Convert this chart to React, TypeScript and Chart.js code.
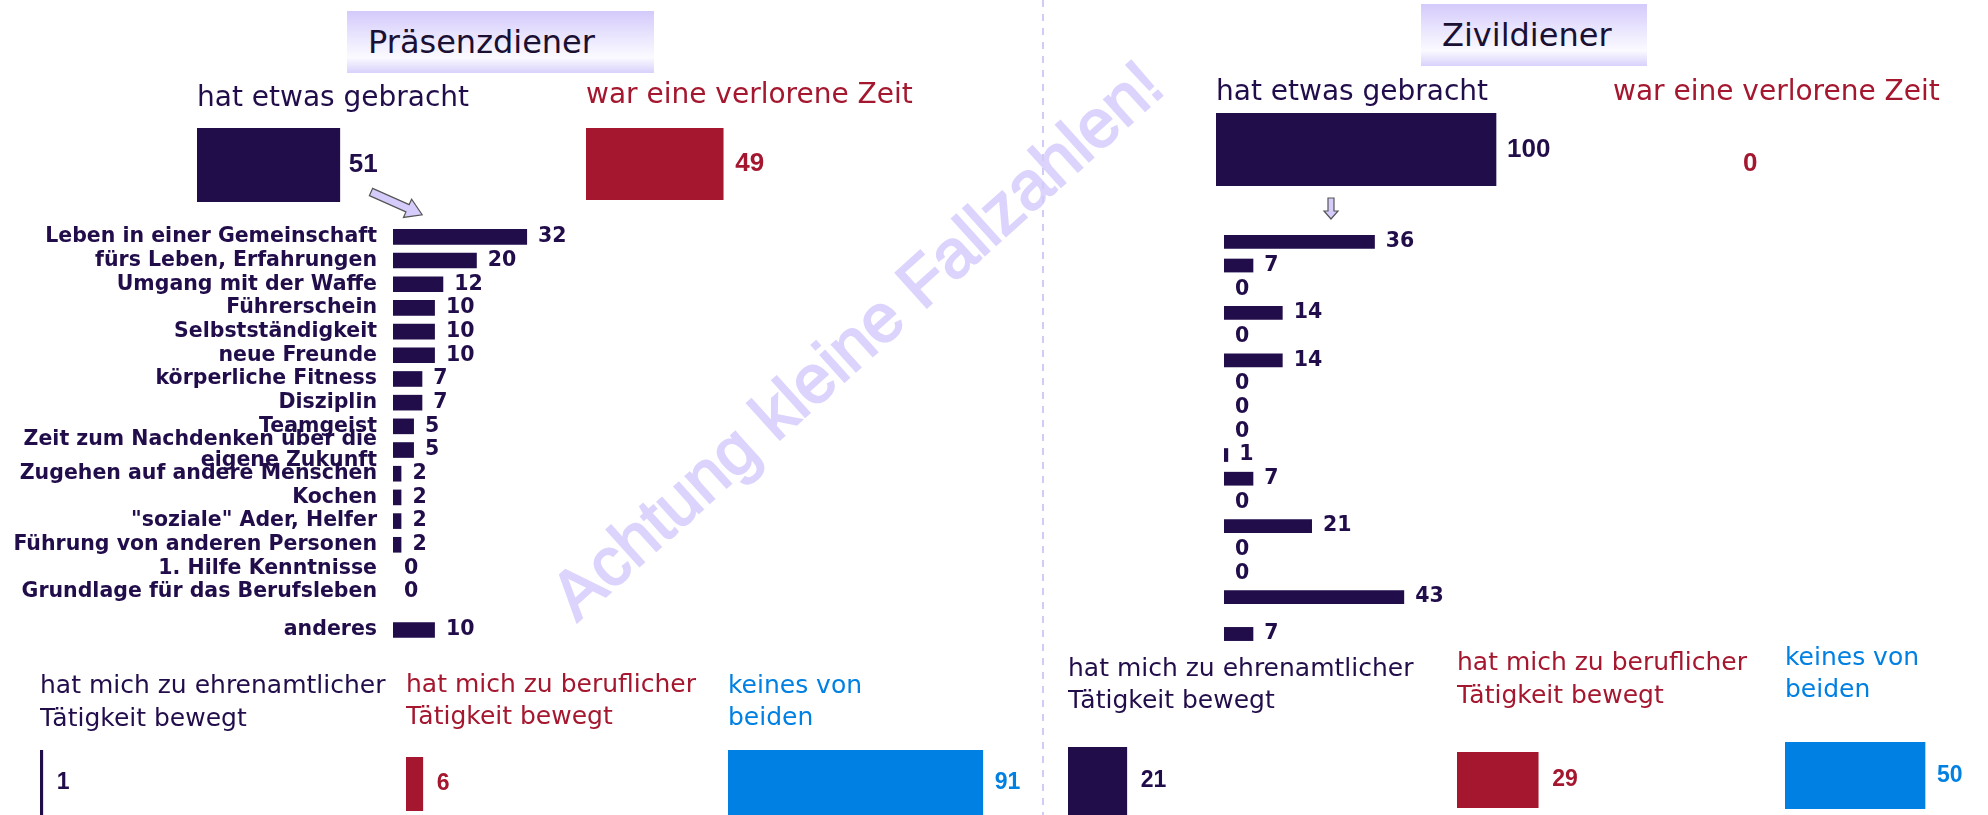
import React, { useEffect, useRef } from "react";
import { Chart, registerables } from "chart.js";

Chart.register(...registerables);

// ---------------- data ----------------
const listCategories: (string | string[])[] = [
  "Leben in einer Gemeinschaft",
  "fürs Leben, Erfahrungen",
  "Umgang mit der Waffe",
  "Führerschein",
  "Selbstständigkeit",
  "neue Freunde",
  "körperliche Fitness",
  "Disziplin",
  "Teamgeist",
  ["Zeit zum Nachdenken über die", "eigene Zukunft"],
  "Zugehen auf andere Menschen",
  "Kochen",
  "\"soziale\" Ader, Helfer",
  "Führung von anderen Personen",
  "1. Hilfe Kenntnisse",
  "Grundlage für das Berufsleben",
];
const otherCategory = ["anderes"];

const praesenzList = [32, 20, 12, 10, 10, 10, 7, 7, 5, 5, 2, 2, 2, 2, 0, 0];
const praesenzOther = [10];
const zivilList = [36, 7, 0, 14, 0, 14, 0, 0, 0, 1, 7, 0, 21, 0, 0, 43];
const zivilOther = [7];

const overallCategories = ["hat etwas gebracht", "war eine verlorene Zeit"];
const praesenzOverall = [51, 49];
const zivilOverall = [100, 0];

const effectCategories = [
  ["hat mich zu ehrenamtlicher", "Tätigkeit bewegt"],
  ["hat mich zu beruflicher", "Tätigkeit bewegt"],
  ["keines von", "beiden"],
];
const praesenzEffect = [1, 6, 91];
const zivilEffect = [21, 29, 50];

const panelTitles = ["Präsenzdiener", "Zivildiener"];
const watermarkText = "Achtung kleine Fallzahlen!";

// ---------------- styles ----------------
const NAVY = "#220d4b";
const RED = "#a4172f";
const BLUE = "#0080e2";
const COLORS = [NAVY, RED, BLUE];
const LIST_PX = 4.19; // px per percent in the detail lists
const BIG_PX = 2.8; // px per percent in the big blocks
const LIST_FONT = "bold 20.5px 'DejaVu Sans'";
const TOP_VAL_FONT = "bold 26px 'Liberation Sans'";
const BOT_VAL_FONT = "bold 23px 'Liberation Sans'";

const valueLabelPlugin = {
  id: "valueLabels",
  afterDatasetsDraw(chart: any, _args: any, opts: any) {
    const { ctx } = chart;
    const meta = chart.getDatasetMeta(0);
    const data = chart.data.datasets[0].data;
    ctx.save();
    ctx.font = opts.font;
    ctx.fillStyle = opts.color;
    ctx.textBaseline = "middle";
    ctx.textAlign = "left";
    meta.data.forEach((el: any, i: number) => {
      ctx.fillText(String(data[i]), el.x + (opts.offset ?? 10), el.y + (opts.dy ?? 0));
    });
    ctx.restore();
  },
};

const fillFor = (color: string) => (c: any) => (c.raw === 0 ? "rgba(0,0,0,0)" : color);

type ListProps = {
  left: number;
  top: number;
  width: number;
  height: number;
  labels: (string | string[])[];
  values: number[];
  axisWidth: number;
  barPct: number;
};

function ListChart({ left, top, width, height, labels, values, axisWidth, barPct }: ListProps) {
  const ref = useRef<HTMLCanvasElement>(null);
  useEffect(() => {
    const showAxis = axisWidth > 0;
    const chart = new Chart(ref.current as HTMLCanvasElement, {
      type: "bar",
      data: {
        labels: labels as any,
        datasets: [
          {
            data: values,
            backgroundColor: fillFor(NAVY) as any,
            borderWidth: 0,
            barPercentage: barPct,
            categoryPercentage: 1,
          },
        ],
      },
      options: {
        indexAxis: "y",
        animation: false,
        responsive: false,
        maintainAspectRatio: false,
        layout: { padding: 0 },
        plugins: {
          legend: { display: false },
          tooltip: { enabled: false },
          title: { display: false },
          valueLabels: { font: LIST_FONT, color: NAVY, offset: 11 },
        } as any,
        scales: {
          x: { display: false, min: 0, max: (width - axisWidth) / LIST_PX },
          y: {
            display: showAxis,
            grid: { display: false },
            border: { display: false },
            ticks: {
              autoSkip: false,
              padding: 8,
              color: NAVY,
              font: { family: "DejaVu Sans", weight: "bold", size: 20.5, lineHeight: 1.0 },
            },
            afterFit: (s: any) => {
              s.width = axisWidth;
              s.paddingTop = 0;
              s.paddingBottom = 0;
            },
          } as any,
        },
      },
      plugins: [valueLabelPlugin as any],
    });
    return () => chart.destroy();
  }, []);
  return (
    <canvas
      ref={ref}
      width={width}
      height={height}
      style={{ position: "absolute", left, top, width, height }}
    />
  );
}

type BlockProps = {
  left: number;
  top: number;
  width: number;
  barTop: number;
  barH: number;
  value: number;
  title: string | string[];
  color: string;
  titleSize: number;
  lh: number;
  labelFont: string;
  offset: number;
};

function BlockChart({ left, top, width, barTop, barH, value, title, color, titleSize, lh, labelFont, offset }: BlockProps) {
  const ref = useRef<HTMLCanvasElement>(null);
  const lines = Array.isArray(title) ? title.length : 1;
  const height = barTop - top + barH;
  const pad = barTop - top - lines * lh;
  useEffect(() => {
    const chart = new Chart(ref.current as HTMLCanvasElement, {
      type: "bar",
      data: {
        labels: [""],
        datasets: [
          {
            data: [value],
            backgroundColor: fillFor(color) as any,
            borderWidth: 0,
            barPercentage: 1,
            categoryPercentage: 1,
          },
        ],
      },
      options: {
        indexAxis: "y",
        animation: false,
        responsive: false,
        maintainAspectRatio: false,
        layout: { padding: 0 },
        plugins: {
          legend: { display: false },
          tooltip: { enabled: false },
          title: {
            display: true,
            text: title as any,
            align: "start",
            color,
            font: { family: "DejaVu Sans", size: titleSize, weight: "normal", lineHeight: lh / titleSize },
            padding: { top: 0, bottom: pad },
          },
          valueLabels: { font: labelFont, color, offset },
        } as any,
        scales: {
          x: { display: false, min: 0, max: width / BIG_PX },
          y: { display: false },
        },
      },
      plugins: [valueLabelPlugin as any],
    });
    return () => chart.destroy();
  }, []);
  return (
    <canvas
      ref={ref}
      width={width}
      height={height}
      style={{ position: "absolute", left, top, width, height }}
    />
  );
}

function TitleBox({ left, top, width, height, text }: { left: number; top: number; width: number; height: number; text: string }) {
  return (
    <div
      style={{
        position: "absolute",
        left,
        top,
        width,
        height,
        background: "linear-gradient(to bottom, #d4cafb 0%, #ece8fe 45%, #fbfaff 75%, #d9d1fb 100%)",
        boxSizing: "border-box",
        paddingLeft: 21,
        lineHeight: height + "px",
        fontFamily: "'DejaVu Sans'",
        fontSize: 32,
        color: "#1a1033",
        whiteSpace: "nowrap",
      }}
    >
      {text}
    </div>
  );
}

export default function App() {
  return (
    <div
      style={{
        position: "fixed",
        left: 0,
        top: 0,
        width: 1988,
        height: 815,
        overflow: "hidden",
        background: "#ffffff",
      }}
    >
      {/* watermark */}
      <div
        style={{
          position: "absolute",
          left: 856,
          top: 339,
          transform: "translate(-50%, -50%) rotate(-42deg)",
          fontFamily: "'Liberation Sans'",
          fontSize: 68,
          color: "#dcd4fd",
          whiteSpace: "nowrap",
          WebkitTextStroke: "2px #dcd4fd",
        }}
      >
        {watermarkText}
      </div>

      {/* dashed divider */}
      <div
        style={{
          position: "absolute",
          left: 1042,
          top: 0,
          width: 2,
          height: 815,
          background: "repeating-linear-gradient(to bottom, #d3cbf7 0px, #d3cbf7 7px, transparent 7px, transparent 14px)",
        }}
      />

      {/* arrows */}
      <svg width={1988} height={815} style={{ position: "absolute", left: 0, top: 0 }}>
        <g transform="translate(371,192) rotate(24)">
          <polygon
            points="0,-4 40,-4 40,-10 56,0 40,10 40,4 0,4"
            fill="#d6ccfb"
            stroke="#555"
            strokeWidth={1.2}
          />
        </g>
        <polygon
          points="1328,198 1334,198 1334,211 1338,211 1331,219 1324,211 1328,211"
          fill="#d6ccfb"
          stroke="#555"
          strokeWidth={1.2}
        />
      </svg>

      <TitleBox left={347} top={11} width={307} height={62} text={panelTitles[0]} />
      <TitleBox left={1421} top={4} width={226} height={62} text={panelTitles[1]} />

      {/* Präsenzdiener overall */}
      <BlockChart left={197} top={81} width={300} barTop={128} barH={74} value={praesenzOverall[0]} title={overallCategories[0]} color={COLORS[0]} titleSize={28} lh={36} labelFont={TOP_VAL_FONT} offset={9} />
      <BlockChart left={586} top={78} width={340} barTop={128} barH={72} value={praesenzOverall[1]} title={overallCategories[1]} color={COLORS[1]} titleSize={28} lh={36} labelFont={TOP_VAL_FONT} offset={12} />

      {/* Zivildiener overall */}
      <BlockChart left={1216} top={75} width={340} barTop={113} barH={73} value={zivilOverall[0]} title={overallCategories[0]} color={COLORS[0]} titleSize={28} lh={36} labelFont={TOP_VAL_FONT} offset={11} />
      <BlockChart left={1613} top={75} width={340} barTop={130} barH={68} value={zivilOverall[1]} title={overallCategories[1]} color={COLORS[1]} titleSize={28} lh={36} labelFont={TOP_VAL_FONT} offset={130} />

      {/* detail lists */}
      <ListChart left={0} top={225} width={620} height={379} labels={listCategories} values={praesenzList} axisWidth={393} barPct={0.66} />
      <ListChart left={0} top={618} width={620} height={24} labels={otherCategory} values={praesenzOther} axisWidth={393} barPct={0.65} />
      <ListChart left={1224} top={230} width={300} height={379} labels={listCategories} values={zivilList} axisWidth={0} barPct={0.58} />
      <ListChart left={1224} top={622} width={300} height={24} labels={otherCategory} values={zivilOther} axisWidth={0} barPct={0.58} />

      {/* Präsenzdiener effects */}
      <BlockChart left={40} top={670} width={380} barTop={750} barH={65} value={praesenzEffect[0]} title={effectCategories[0]} color={COLORS[0]} titleSize={25} lh={33} labelFont={BOT_VAL_FONT} offset={14} />
      <BlockChart left={406} top={669} width={320} barTop={757} barH={54} value={praesenzEffect[1]} title={effectCategories[1]} color={COLORS[1]} titleSize={25} lh={32} labelFont={BOT_VAL_FONT} offset={14} />
      <BlockChart left={728} top={670} width={300} barTop={750} barH={65} value={praesenzEffect[2]} title={effectCategories[2]} color={COLORS[2]} titleSize={25} lh={32} labelFont={BOT_VAL_FONT} offset={12} />

      {/* Zivildiener effects */}
      <BlockChart left={1068} top={653} width={380} barTop={747} barH={68} value={zivilEffect[0]} title={effectCategories[0]} color={COLORS[0]} titleSize={25} lh={32} labelFont={BOT_VAL_FONT} offset={14} />
      <BlockChart left={1457} top={647} width={320} barTop={752} barH={56} value={zivilEffect[1]} title={effectCategories[1]} color={COLORS[1]} titleSize={25} lh={33} labelFont={BOT_VAL_FONT} offset={14} />
      <BlockChart left={1785} top={642} width={200} barTop={742} barH={67} value={zivilEffect[2]} title={effectCategories[2]} color={COLORS[2]} titleSize={25} lh={32} labelFont={BOT_VAL_FONT} offset={12} />
    </div>
  );
}
